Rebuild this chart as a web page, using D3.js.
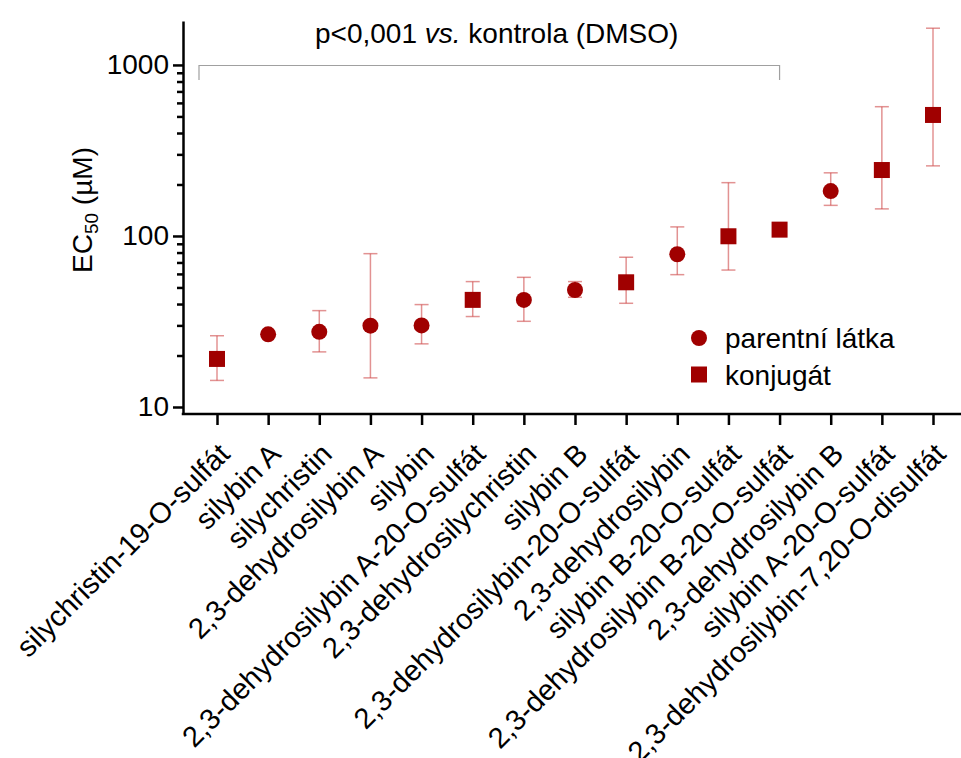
<!DOCTYPE html>
<meta charset="utf-8">
<style>
body { margin: 0; background: #fff; }
text { font-family: "Liberation Sans", Arial, sans-serif; fill: #000; }
.axis path.domain, .axis line { stroke: #000; stroke-width: 2.5px; }
.axis text { font-size: 28px; font-family: "Liberation Sans", Arial, sans-serif; }
.xaxis text { font-size: 29px; }
.err { stroke: #cf4a4a; stroke-opacity: 0.6; stroke-width: 1.5px; fill: none; }
.mark { fill: #a00000; }
</style>
<body>
<div id="chart"></div>
<script src="https://d3js.org/d3.v7.min.js"></script>
<script>
// data
var categories = ["silychristin-19-O-sulfát", "silybin A", "silychristin", "2,3-dehydrosilybin A",
  "silybin", "2,3-dehydrosilybin A-20-O-sulfát", "2,3-dehydrosilychristin", "silybin B",
  "2,3-dehydrosilybin-20-O-sulfát", "2,3-dehydrosilybin", "silybin B-20-O-sulfát",
  "2,3-dehydrosilybin B-20-O-sulfát", "2,3-dehydrosilybin B", "silybin A-20-O-sulfát",
  "2,3-dehydrosilybin-7,20-O-disulfát"];
var kinds = ["konjugát", "parentní látka", "parentní látka", "parentní látka",
  "parentní látka", "konjugát", "parentní látka", "parentní látka",
  "konjugát", "parentní látka", "konjugát",
  "konjugát", "parentní látka", "konjugát", "konjugát"];
var ec50  = [19.1, 26.6, 27.5, 29.9, 30.0, 42.3, 42.3, 48.3, 53.6, 78.2, 99.6, 108.9, 183, 243, 510];
var lower = [14.3, null, 21.0, 14.8, 23.4, 33.8, 31.7, 43.8, 40.4, 59.4, 63.2, null, 151, 144, 257];
var upper = [26.1, null, 36.6, 78.8, 39.7, 54.1, 57.3, 54.1, 75.1, 113, 205, null, 234, 570, 1640];
var majorTicks = [10, 100, 1000];
var minorTicks = [20, 30, 40, 50, 60, 70, 80, 90, 200, 300, 400, 500, 600, 700, 800, 900];
var legendItems = ["parentní látka", "konjugát"];
var bracketFrom = 0, bracketTo = 11;   // categories covered by the significance bracket
var bracketLabel = "p<0,001 ";
var bracketLabelItalic = "vs.";
var bracketLabelRest = " kontrola (DMSO)";

var W = 961, H = 758;
var axisX = 183, axisY = 414;

var svg = d3.select("#chart").append("svg")
    .attr("width", W)
    .attr("height", H);

var x = d3.scalePoint().domain(categories).range([217, 933]);
var y = d3.scaleLog().domain([9.1, 1807]).range([axisY, 21]);

var rows = categories.map(function(c, i) {
  return {name: c, kind: kinds[i], v: ec50[i], lo: lower[i], hi: upper[i]};
});

// y axis (major + minor ticks)
svg.append("g").attr("class", "axis")
    .attr("transform", "translate(" + axisX + ",0)")
    .call(d3.axisLeft(y).tickValues(majorTicks).tickFormat(d3.format("d"))
      .tickSize(10).tickSizeOuter(0).tickPadding(4));
svg.append("g").attr("class", "axis")
    .attr("transform", "translate(" + axisX + ",0)")
    .call(d3.axisLeft(y).tickValues(minorTicks).tickFormat("").tickSize(6).tickSizeOuter(0))
    .select("path.domain").remove();

// x axis
var gx = svg.append("g").attr("class", "axis xaxis")
    .attr("transform", "translate(0," + axisY + ")")
    .call(d3.axisBottom(x).tickSize(11).tickSizeOuter(0));
gx.select("path.domain").remove();
gx.append("line").attr("x1", axisX - 1.25).attr("x2", W).attr("y1", 0).attr("y2", 0);
gx.selectAll(".tick text")
    .attr("text-anchor", "end")
    .attr("dy", 0)
    .attr("transform", "translate(4,32) rotate(-45)");

// y label
svg.append("text")
    .attr("transform", "translate(92,210) rotate(-90)")
    .attr("text-anchor", "middle")
    .style("font-size", "28px")
    .call(function(t) {
      t.append("tspan").text("EC");
      t.append("tspan").text("50").style("font-size", "19px").attr("dy", 6);
      t.append("tspan").text(" (µM)").attr("dy", -6);
    });

// significance bracket
var bx1 = x(categories[bracketFrom]) - 18, bx2 = x(categories[bracketTo]);
svg.append("path")
    .attr("d", "M" + bx1 + ",80V65.5H" + bx2 + "V80")
    .attr("fill", "none")
    .attr("stroke", "#a0a0a0")
    .attr("stroke-width", 1.2);
svg.append("text")
    .attr("x", 315).attr("y", 43)
    .style("font-size", "28px")
    .call(function(t) {
      t.append("tspan").text(bracketLabel);
      t.append("tspan").text(bracketLabelItalic).style("font-style", "italic");
      t.append("tspan").text(bracketLabelRest);
    });

// error bars
var eb = svg.append("g").selectAll("g")
    .data(rows.filter(function(d) { return d.lo != null; }))
  .enter().append("g").attr("class", "err");
eb.append("line")
    .attr("x1", function(d) { return x(d.name); })
    .attr("x2", function(d) { return x(d.name); })
    .attr("y1", function(d) { return y(d.lo); })
    .attr("y2", function(d) { return y(d.hi); });
eb.append("line")
    .attr("x1", function(d) { return x(d.name) - 7; })
    .attr("x2", function(d) { return x(d.name) + 7; })
    .attr("y1", function(d) { return y(d.lo); })
    .attr("y2", function(d) { return y(d.lo); });
eb.append("line")
    .attr("x1", function(d) { return x(d.name) - 7; })
    .attr("x2", function(d) { return x(d.name) + 7; })
    .attr("y1", function(d) { return y(d.hi); })
    .attr("y2", function(d) { return y(d.hi); });

// markers
function drawMark(g, kind, cx, cy) {
  if (kind === "konjugát") {
    g.append("rect").attr("class", "mark")
      .attr("x", cx - 8).attr("y", cy - 8).attr("width", 16).attr("height", 16);
  } else {
    g.append("circle").attr("class", "mark")
      .attr("cx", cx).attr("cy", cy).attr("r", 8);
  }
}
var marks = svg.append("g");
rows.forEach(function(d) { drawMark(marks, d.kind, x(d.name), y(d.v)); });

// legend
var lg = svg.append("g");
legendItems.forEach(function(k, i) {
  var ly = 338 + i * 36.5;
  drawMark(lg, k, 699, ly);
  lg.append("text").attr("x", 725).attr("y", ly + 10)
    .style("font-size", "28px").text(k);
});
</script>
</body>
